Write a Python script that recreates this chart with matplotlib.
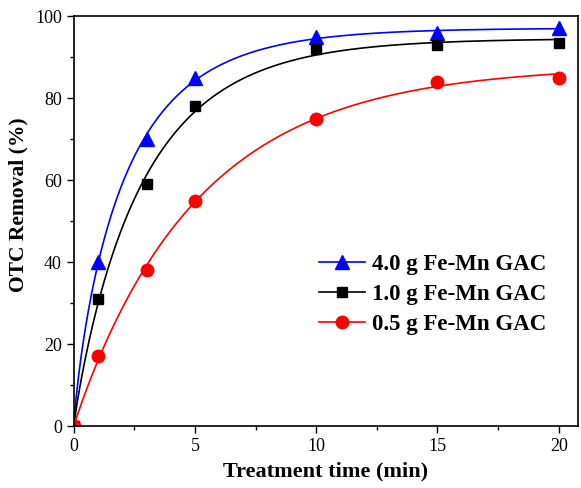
import numpy as np
import matplotlib
matplotlib.use('Agg')
import matplotlib.pyplot as plt
from matplotlib.ticker import MultipleLocator

plt.rcParams['font.family'] = ['Liberation Serif', 'DejaVu Serif']

time_min = [0, 1, 3, 5, 10, 15, 20]
removal_4g = [0, 40, 70, 85, 95, 96, 97]
removal_1g = [0, 31, 59, 78, 92, 93, 93.5]
removal_05g = [0, 17, 38, 55, 75, 84, 85]

labels = ['4.0 g Fe-Mn GAC', '1.0 g Fe-Mn GAC', '0.5 g Fe-Mn GAC']
colors = ['#0000ff', '#000000', '#ff0000']
markers = ['^', 's', 'o']
msizes = [10, 7.5, 9]


def fit_curve(t, y):
    # y = a*(1-exp(-(k t)^n)), k and n by grid search, a by least squares
    t = np.asarray(t, float)
    y = np.asarray(y, float)
    best = None
    for n in np.linspace(0.4, 1.5, 56):
        for k in np.linspace(0.01, 2, 400):
            g = 1 - np.exp(-(k * t) ** n)
            a = (g @ y) / (g @ g)
            err = np.sum((a * g - y) ** 2)
            if best is None or err < best[0]:
                best = (err, a, k, n)
    return best[1:]


fig = plt.figure(figsize=(5.81, 4.88), dpi=100)
ax = fig.add_axes([0.127, 0.127, 0.868, 0.84])

tt = np.linspace(0, 20, 400)
handles = []
for y, lab, c, m, ms in zip([removal_4g, removal_1g, removal_05g], labels, colors, markers, msizes):
    a, k, n = fit_curve(time_min, y)
    ax.plot(tt, a * (1 - np.exp(-(k * tt) ** n)), color=c, lw=1.2)
    ax.plot(time_min, y, linestyle='none', marker=m, color=c, ms=ms)
    h, = ax.plot([], [], color=c, lw=1.2, marker=m, ms=ms, label=lab)
    handles.append(h)

ax.set_xlim(0, 20.8)
ax.set_ylim(0, 100)
ax.xaxis.set_major_locator(MultipleLocator(5))
ax.xaxis.set_minor_locator(MultipleLocator(2.5))
ax.yaxis.set_major_locator(MultipleLocator(20))
ax.yaxis.set_minor_locator(MultipleLocator(10))
ax.tick_params(which='major', direction='out', length=5, width=1, labelsize=13)
ax.tick_params(which='minor', direction='out', length=3, width=1)
for s in ax.spines.values():
    s.set_linewidth(1.2)

ax.set_xlabel('Treatment time (min)', fontsize=16, fontweight='bold', labelpad=5)
ax.set_ylabel('OTC Removal (%)', fontsize=15.5, fontweight='bold')
ax.yaxis.set_label_coords(-0.09, 0.54)

ax.legend(handles=handles, loc='lower right', bbox_to_anchor=(0.964, 0.188), frameon=False,
          prop={'size': 16.5, 'weight': 'bold'}, handlelength=2.0, handletextpad=0.3,
          labelspacing=0.4, borderaxespad=0.2)

fig.savefig('out.png', dpi=100)
